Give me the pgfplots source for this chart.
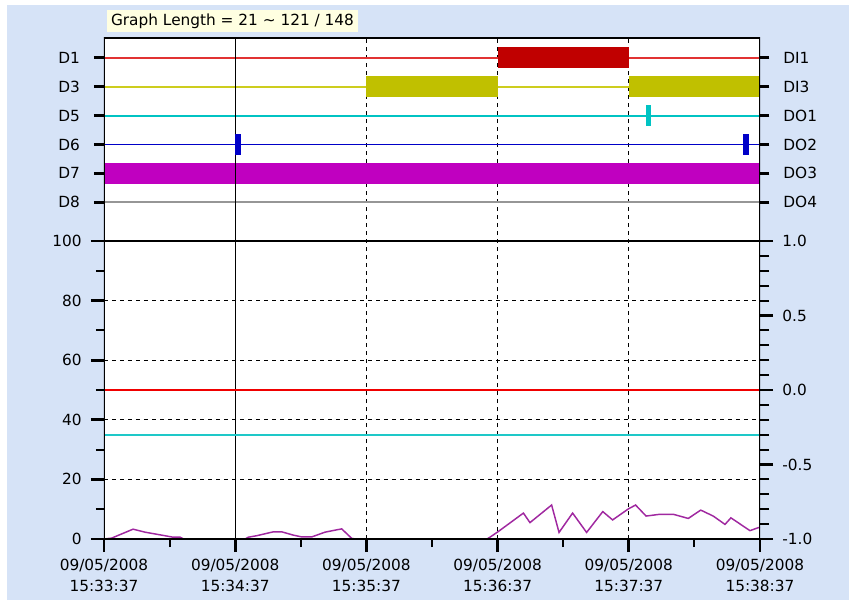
\documentclass[border=0pt]{standalone}
\usepackage{pgfplots}
\pgfplotsset{compat=1.18}
\usepackage{fontspec}
\setmainfont{DejaVu Sans}
\definecolor{bgblue}{RGB}{214,227,247}
\definecolor{lblbox}{RGB}{255,255,225}
\definecolor{dRedLine}{RGB}{225,50,50}
\definecolor{dRed}{RGB}{192,0,0}
\definecolor{dOlive}{RGB}{192,192,0}
\definecolor{dOliveLine}{RGB}{205,205,30}
\definecolor{dCyan}{RGB}{0,195,195}
\definecolor{dBlue}{RGB}{0,0,200}
\definecolor{dMag}{RGB}{192,0,192}
\definecolor{dGray}{RGB}{150,150,150}
\definecolor{aRed}{RGB}{240,0,0}
\definecolor{aCyan}{RGB}{30,200,200}
\definecolor{aPurple}{RGB}{160,40,160}
\newcommand\lbl{\fontsize{11.5}{15.75}\selectfont}
\begin{document}
\begin{tikzpicture}[x=1pt,y=1pt]
\fill[white] (-78,-45.75) rectangle (558.75,404.25);
\fill[bgblue] (-72.75,-45.75) rectangle (558.75,400.5);
\fill[lblbox] (2.25,380.25) rectangle (190.5,396.75);
\node[font=\lbl, inner sep=0pt] at (96.4,388.3) {Graph Length = 21 \textasciitilde{} 121 / 148};
\begin{axis}[
  at={(0,0)}, anchor=south west,
  scale only axis, width=492pt, height=375.75pt,
  xmin=0, xmax=300, ymin=0, ymax=168.12,
  axis background/.style={fill=white},
  axis line style={draw=none},
  /pgf/number format/assume math mode=true,
  tick align=outside,
  xtick pos=bottom, ytick pos=left,
  major tick length=9.75pt, minor tick length=6pt,
  major tick style={line width=2pt, black},
  minor tick style={line width=1.5pt, black},
  xtick={0,60,120,180,240,300},
  minor xtick={30,90,150,210,270},
  xticklabels={{09/05/2008\\15:33:37},{09/05/2008\\15:34:37},{09/05/2008\\15:35:37},{09/05/2008\\15:36:37},{09/05/2008\\15:37:37},{09/05/2008\\15:38:37}},
  xticklabel style={align=center, font=\lbl, yshift=-1.5pt},
  ytick={0,20,40,60,80,100},
  yticklabels={0,20,40,60,80,100},
  minor ytick={10,30,50,70,90},
  yticklabel style={font=\lbl, xshift=-3.5pt},
  extra y ticks={113.0,122.7,132.4,142.1,151.8,161.5},
  extra y tick labels={D8,D7,D6,D5,D3,D1},
  extra y tick style={major tick length=7.5pt, tick style={line width=0.8pt, black}, yticklabel style={font=\lbl, xshift=-3.5pt}},
  clip=true,
]
% grid
\draw[black, line width=0.8pt, dash pattern=on 3pt off 3pt] (axis cs:0,20) -- (axis cs:300,20);
\draw[black, line width=0.8pt, dash pattern=on 3pt off 3pt] (axis cs:0,40) -- (axis cs:300,40);
\draw[black, line width=0.8pt, dash pattern=on 3pt off 3pt] (axis cs:0,60) -- (axis cs:300,60);
\draw[black, line width=0.8pt, dash pattern=on 3pt off 3pt] (axis cs:0,80) -- (axis cs:300,80);
\draw[black, line width=1.1pt] (axis cs:0,100) -- (axis cs:300,100);
\draw[black, line width=0.9pt, dash pattern=on 3pt off 3pt] (axis cs:120,0) -- (axis cs:120,168.12);
\draw[black, line width=0.9pt, dash pattern=on 3pt off 3pt] (axis cs:180,0) -- (axis cs:180,168.12);
\draw[black, line width=0.9pt, dash pattern=on 3pt off 3pt] (axis cs:240,0) -- (axis cs:240,168.12);
% digital thin lines
\addplot[draw=dRedLine, line width=1.4pt] coordinates {(0,161.5) (300,161.5)};
\addplot[draw=dOliveLine, line width=1.4pt] coordinates {(0,151.8) (300,151.8)};
\addplot[draw=dCyan, line width=1.5pt] coordinates {(0,142.1) (300,142.1)};
\addplot[draw=dBlue, line width=1.4pt] coordinates {(0,132.4) (300,132.4)};
\addplot[draw=dGray, line width=1.4pt] coordinates {(0,113.0) (300,113.0)};
% digital high states
\addplot[draw=dRed, line width=15.45pt] coordinates {(180,161.5) (240,161.5)};
\addplot[draw=dOlive, line width=15.45pt] coordinates {(120,151.8) (180,151.8)};
\addplot[draw=dOlive, line width=15.45pt] coordinates {(240,151.8) (300,151.8)};
\addplot[draw=dCyan, line width=15.45pt] coordinates {(247.9,142.1) (250.3,142.1)};
\addplot[draw=dMag, line width=15.45pt] coordinates {(0,122.7) (300,122.7)};
% cursor
\draw[black, line width=1pt] (axis cs:60,0) -- (axis cs:60,168.12);
\addplot[draw=dBlue, line width=15.45pt] coordinates {(59.9,132.4) (62.5,132.4)};
\addplot[draw=dBlue, line width=15.45pt] coordinates {(292.4,132.4) (295.1,132.4)};
% analog
\addplot[draw=aRed, line width=1.1pt] coordinates {(0,50) (300,50)};
\addplot[draw=aCyan, line width=1.3pt] coordinates {(0,35) (300,35)};
\addplot[draw=aPurple, line width=1.1pt] coordinates {
(0,0) (3.5,0.3) (13.3,3.3) (18.7,2.3) (27.9,1.1) (31.6,0.6) (34.8,0.6) (36.5,0)
(64.5,0) (66.0,0.6) (69.8,1.1) (77.4,2.4) (81.3,2.4) (86.6,1.3) (90.4,0.7) (95.0,0.7)
(101.1,2.3) (108.7,3.4) (113.3,0.2) (115,0)
(175.1,0) (176.5,0.6) (180.3,2.5) (191.8,8.7) (194.8,5.5) (204.7,11.4) (208.1,2.2)
(214.3,8.7) (220.7,2.2) (228.1,9.2) (232.6,6.4) (239.8,10.1) (243.1,11.4) (247.9,7.7)
(254.3,8.3) (260.3,8.3) (267.2,6.9) (272.9,9.7) (278.6,7.7) (284.0,4.9) (286.7,7.1)
(295.4,2.8) (299.2,3.8) (300,3.9)};
% borders
\draw[black, line width=0.8pt] (rel axis cs:0,1) -- (rel axis cs:1,1);
\draw[black, line width=2.25pt, line cap=rect] (rel axis cs:0,1) -- (rel axis cs:0,0) -- (rel axis cs:1,0) -- (rel axis cs:1,1);
\end{axis}
\begin{axis}[
  at={(0,0)}, anchor=south west,
  scale only axis, width=492pt, height=375.75pt,
  xmin=0, xmax=300, ymin=0, ymax=168.12,
  axis line style={draw=none},
  /pgf/number format/assume math mode=true,
  tick align=outside,
  xtick=\empty,
  ytick pos=right,
  major tick length=9.75pt, minor tick length=6.75pt,
  major tick style={line width=2pt, black},
  minor tick style={line width=1.5pt, black},
  ytick={0,25,50,75,100},
  yticklabels={-1.0,-0.5,0.0,0.5,1.0},
  minor ytick={5,10,15,20,30,35,40,45,55,60,65,70,80,85,90,95},
  yticklabel style={font=\lbl, xshift=3.5pt},
  extra y ticks={113.0,122.7,132.4,142.1,151.8,161.5},
  extra y tick labels={DO4,DO3,DO2,DO1,DI3,DI1},
  extra y tick style={major tick length=7pt, tick style={line width=0.8pt, black}, yticklabel style={font=\lbl, xshift=3.5pt}},
]
\end{axis}
\end{tikzpicture}
\end{document}
